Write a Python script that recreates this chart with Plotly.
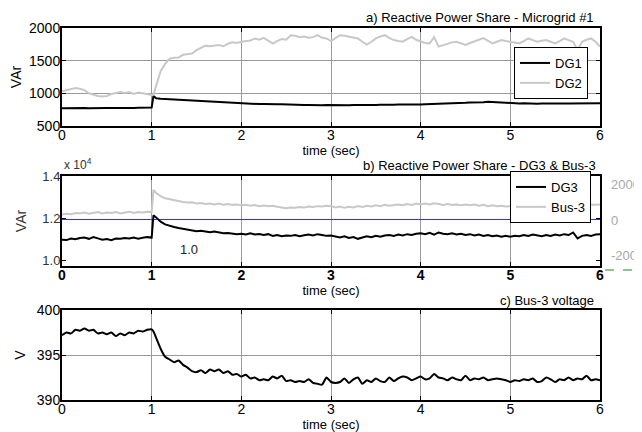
import plotly.graph_objects as go

# time grid (sec)
t = [0.00, 0.05, 0.10, 0.15, 0.20, 0.25, 0.30, 0.35, 0.40, 0.45, 0.50, 0.55, 0.60, 0.65, 0.70, 0.75, 0.80, 0.85, 0.90, 0.95, 1.00,
     1.02,
     1.05, 1.10, 1.15, 1.20, 1.25, 1.30, 1.35, 1.40, 1.45, 1.50, 1.55, 1.60, 1.65, 1.70, 1.75, 1.80, 1.85, 1.90, 1.95, 2.00,
     2.05, 2.10, 2.15, 2.20, 2.25, 2.30, 2.35, 2.40, 2.45, 2.50, 2.55, 2.60, 2.65, 2.70, 2.75, 2.80, 2.85, 2.90, 2.95, 3.00,
     3.05, 3.10, 3.15, 3.20, 3.25, 3.30, 3.35, 3.40, 3.45, 3.50, 3.55, 3.60, 3.65, 3.70, 3.75, 3.80, 3.85, 3.90, 3.95, 4.00,
     4.05, 4.10, 4.15, 4.20, 4.25, 4.30, 4.35, 4.40, 4.45, 4.50, 4.55, 4.60, 4.65, 4.70, 4.75, 4.80, 4.85, 4.90, 4.95, 5.00,
     5.05, 5.10, 5.15, 5.20, 5.25, 5.30, 5.35, 5.40, 5.45, 5.50, 5.55, 5.60, 5.65, 5.70, 5.75, 5.80, 5.85, 5.90, 5.95, 6.00]

# a) Reactive power share - Microgrid #1 (VAr)
dg1 = [770, 773, 771, 774, 772, 775, 773, 776, 774, 777, 775, 776, 774, 777, 775, 778, 776, 779, 778, 781, 782,
       960,
       925, 916, 912, 905, 903, 897, 896, 890, 890, 885, 886, 880, 879, 873, 872, 864, 862, 854, 852, 845,
       843, 839, 839, 835, 837, 833, 835, 831, 833, 829, 830, 825, 824, 820, 822, 819, 822, 819, 823, 820,
       823, 819, 822, 818, 822, 820, 824, 821, 825, 823, 827, 824, 828, 826, 829, 827, 831, 829, 832, 830,
       834, 835, 839, 839, 843, 844, 849, 849, 853, 854, 859, 858, 863, 864, 871, 866, 863, 856, 856, 850,
       851, 846, 847, 843, 846, 842, 845, 843, 846, 844, 847, 844, 846, 845, 848, 845, 848, 845, 847, 847]
dg2 = [1030, 1045, 1065, 1080, 1070, 1050, 1000, 975, 960, 950, 960, 990, 1010, 1020, 1005, 1020, 990, 1012, 1000, 985, 975,
       980,
       1120, 1340, 1450, 1530, 1545, 1550, 1590, 1600, 1610, 1660, 1700, 1730, 1720, 1725, 1740, 1720, 1760, 1780, 1770, 1790,
       1800, 1810, 1840, 1820, 1850, 1800, 1760, 1800, 1830, 1820, 1890, 1880, 1860, 1870, 1850, 1860, 1890, 1850, 1840, 1800,
       1850, 1890, 1880, 1865, 1850, 1840, 1790, 1745, 1790, 1840, 1870, 1890, 1850, 1815, 1800, 1790, 1830, 1865, 1820, 1790,
       1770, 1765, 1860, 1715, 1740, 1765, 1780, 1790, 1760, 1740, 1770, 1790, 1820, 1845, 1800, 1765, 1790, 1815, 1800, 1790,
       1775, 1765, 1800, 1840, 1815, 1790, 1805, 1815, 1790, 1765, 1800, 1840, 1815, 1790, 1665, 1790, 1820, 1840, 1790, 1715]

# b) Reactive power share - DG3 & Bus-3 (x 10^4 VAr)
dg3 = [1.100, 1.098, 1.105, 1.102, 1.108, 1.110, 1.104, 1.112, 1.106, 1.100, 1.103, 1.098, 1.105, 1.104, 1.108, 1.106, 1.110, 1.105, 1.109, 1.112, 1.110,
       1.215,
       1.205, 1.185, 1.172, 1.165, 1.160, 1.155, 1.152, 1.148, 1.146, 1.140, 1.142, 1.138, 1.135, 1.138, 1.133, 1.130, 1.132, 1.128, 1.126, 1.128,
       1.125, 1.130, 1.124, 1.127, 1.122, 1.126, 1.118, 1.122, 1.116, 1.120, 1.118, 1.122, 1.116, 1.121, 1.124, 1.120, 1.126, 1.122, 1.118, 1.120,
       1.114, 1.110, 1.116, 1.108, 1.112, 1.104, 1.110, 1.116, 1.112, 1.118, 1.114, 1.120, 1.122, 1.118, 1.124, 1.120, 1.126, 1.122, 1.128, 1.130,
       1.126, 1.132, 1.124, 1.134, 1.128, 1.126, 1.130, 1.124, 1.128, 1.122, 1.126, 1.120, 1.124, 1.118, 1.122, 1.116, 1.120, 1.114, 1.118, 1.114,
       1.118, 1.116, 1.122, 1.118, 1.124, 1.120, 1.116, 1.122, 1.118, 1.124, 1.120, 1.126, 1.122, 1.134, 1.106, 1.118, 1.122, 1.118, 1.124, 1.125]
bus3 = [1.218, 1.222, 1.220, 1.226, 1.224, 1.228, 1.222, 1.226, 1.230, 1.224, 1.228, 1.226, 1.230, 1.224, 1.228, 1.232, 1.226, 1.230, 1.228, 1.232, 1.230,
        1.335,
        1.320, 1.305, 1.295, 1.290, 1.285, 1.282, 1.278, 1.275, 1.276, 1.270, 1.273, 1.268, 1.270, 1.266, 1.270, 1.265, 1.268, 1.264, 1.266, 1.262,
        1.265, 1.260, 1.263, 1.258, 1.261, 1.257, 1.260, 1.255, 1.252, 1.248, 1.252, 1.250, 1.254, 1.252, 1.256, 1.254, 1.258, 1.256, 1.260, 1.258,
        1.252, 1.256, 1.250, 1.255, 1.252, 1.258, 1.254, 1.260, 1.256, 1.262, 1.258, 1.264, 1.260, 1.262, 1.266, 1.262, 1.268, 1.264, 1.270, 1.266,
        1.270, 1.266, 1.272, 1.268, 1.264, 1.268, 1.264, 1.266, 1.262, 1.266, 1.262, 1.266, 1.260, 1.264, 1.258, 1.262, 1.258, 1.260, 1.256, 1.258,
        1.262, 1.258, 1.264, 1.260, 1.266, 1.262, 1.264, 1.260, 1.266, 1.262, 1.266, 1.262, 1.268, 1.264, 1.262, 1.266, 1.262, 1.266, 1.264, 1.266]

# c) Bus-3 voltage (V)
volt = [397.2, 397.5, 397.4, 397.8, 397.7, 397.95, 397.7, 397.8, 397.4, 397.5, 397.3, 397.5, 397.1, 397.4, 397.2, 397.5, 397.4, 397.7, 397.6, 397.8, 397.85,
        397.6,
        396.9, 395.7, 394.8, 394.5, 394.2, 394.4, 393.9, 393.6, 393.2, 393.1, 393.3, 393.0, 393.4, 393.2, 393.4, 393.0, 393.2, 392.8, 392.9, 392.6,
        392.8, 392.4, 392.5, 392.2, 392.3, 392.2, 392.6, 392.4, 392.7, 392.1, 392.2, 392.0, 392.1, 392.0, 392.3, 391.9, 391.8, 391.7, 392.5, 392.0,
        391.9, 392.0, 392.4, 391.9, 392.3, 392.5, 391.8, 392.2, 392.0, 392.4, 392.1, 392.0, 392.5, 392.1, 392.4, 392.6, 392.5, 392.2, 392.4, 392.6,
        392.3, 392.4, 392.9, 392.5, 392.4, 392.2, 392.5, 392.3, 392.2, 392.7, 392.2, 392.4, 392.3, 392.5, 392.2, 392.3, 392.4, 392.3, 392.2, 392.0,
        392.2, 392.1, 392.3, 392.2, 392.4, 392.0, 392.1, 392.5, 392.3, 392.0, 392.3, 392.2, 392.5, 392.2, 392.4, 392.3, 392.7, 392.2, 392.3, 392.2]

x_ticks = [0, 1, 2, 3, 4, 5, 6]
a_yticks = [500, 1000, 1500, 2000]
b_yticks = [1.0, 1.2, 1.4]
b_yticktext = ["1.0", "1.2", "1.4"]
b_right_ticks = [-2000, 0, 2000]
b_right_text = ["-2000", "0", "2000"]
c_yticks = [390, 395, 400]

FONT = "Liberation Sans, Arial, sans-serif"
BLACK = "#000000"
LGRAY = "#c8c8c8"
GRID = "#9a9a9a"

# page offset of the figure div (browser body margin)
OFF = 8
W, H = 642.0, 432.0
L = 62 - OFF
R = W - (600 - OFF)
PW = W - L - R

def py(y_px):
    return 1 - (y_px - OFF) / H

def px(x_px):
    return (x_px - OFF - L) / PW

def dom(top_px, bot_px):
    return [py(bot_px), py(top_px)]

fig = go.Figure()
fig.add_trace(go.Scatter(x=t, y=dg1, mode="lines", name="DG1", line=dict(color=BLACK, width=2),
                         xaxis="x", yaxis="y", legend="legend"))
fig.add_trace(go.Scatter(x=t, y=dg2, mode="lines", name="DG2", line=dict(color=LGRAY, width=2),
                         xaxis="x", yaxis="y", legend="legend"))
fig.add_trace(go.Scatter(x=t, y=dg3, mode="lines", name="DG3", line=dict(color=BLACK, width=2),
                         xaxis="x2", yaxis="y2", legend="legend2"))
fig.add_trace(go.Scatter(x=t, y=bus3, mode="lines", name="Bus-3", line=dict(color=LGRAY, width=2),
                         xaxis="x2", yaxis="y2", legend="legend2"))
fig.add_trace(go.Scatter(x=[], y=[], mode="lines", showlegend=False, xaxis="x2", yaxis="y4"))
fig.add_trace(go.Scatter(x=t, y=volt, mode="lines", name="V", showlegend=False,
                         line=dict(color=BLACK, width=2, shape="spline", smoothing=0.6),
                         xaxis="x3", yaxis="y3"))

xcommon = dict(range=[0, 6], tickvals=x_ticks, ticks="inside", ticklen=4, tickcolor=BLACK,
               showline=True, linecolor=BLACK, linewidth=2, mirror="ticks", automargin=False,
               showgrid=True, gridcolor=GRID, gridwidth=1, zeroline=False, ticklabelstandoff=-5,
               tickfont=dict(size=14, color=BLACK, family=FONT),
               title=dict(text="time (sec)", font=dict(size=13, color=BLACK, family=FONT), standoff=0))
ycommon = dict(ticks="inside", ticklen=4, tickcolor=BLACK, showline=True, linecolor=BLACK,
               linewidth=2, mirror="ticks", zeroline=False, automargin=False, ticklabelstandoff=-3,
               tickfont=dict(size=14, color=BLACK, family=FONT))

fig.update_layout(
    width=W, height=H,
    margin=dict(l=L, r=R, t=0, b=0, pad=0, autoexpand=False),
    paper_bgcolor="white", plot_bgcolor="white",
    font=dict(family=FONT, color=BLACK),
    xaxis=dict(xcommon, anchor="y", domain=[0, 1]),
    yaxis=dict(ycommon, domain=dom(28, 126), range=[500, 2000], tickvals=a_yticks,
               showgrid=True, gridcolor=GRID,
               title=dict(text="VAr", font=dict(size=14, family=FONT), standoff=6)),
    xaxis2=dict(xcommon, anchor="y2", domain=[0, 1],
                tickfont=dict(size=14, color=BLACK, family=FONT, weight="bold")),
    yaxis2=dict(ycommon, domain=dom(176, 266), range=[0.976, 1.4], tickvals=b_yticks,
                ticktext=b_yticktext, showgrid=False,
                tickfont=dict(size=13, color="#333333", family=FONT),
                title=dict(text="VAr", font=dict(size=14, color="#333333", family=FONT), standoff=12)),
    yaxis4=dict(overlaying="y2", side="right", anchor="x2", range=[-2630, 2510],
                tickvals=b_right_ticks, ticktext=b_right_text, automargin=False,
                showline=False, ticks="", showgrid=False,
                zeroline=True, zerolinecolor="#3030ff", zerolinewidth=1,
                tickfont=dict(size=13, color="#a8a8a8", family=FONT), ticklabelstandoff=10),
    xaxis3=dict(xcommon, anchor="y3", domain=[0, 1]),
    yaxis3=dict(ycommon, domain=dom(310, 400), range=[390, 400], tickvals=c_yticks,
                showgrid=True, gridcolor=GRID,
                title=dict(text="V", font=dict(size=14, family=FONT), standoff=8)),
    legend=dict(x=px(588), y=py(73), xanchor="right", yanchor="middle",
                bgcolor="white", bordercolor=BLACK, borderwidth=1,
                font=dict(size=13, family=FONT, color=BLACK), itemwidth=30, tracegroupgap=0),
    legend2=dict(x=px(591), y=py(197), xanchor="right", yanchor="middle",
                 bgcolor="white", bordercolor=BLACK, borderwidth=1,
                 font=dict(size=13, family=FONT, color=BLACK), itemwidth=30, tracegroupgap=0),
    showlegend=True,
)

ann_font = dict(size=13, family=FONT, color=BLACK)
fig.add_annotation(text="a) Reactive Power Share - Microgrid #1", xref="paper", yref="paper",
                   x=px(596), y=py(17), xanchor="right", yanchor="middle",
                   showarrow=False, font=ann_font)
fig.add_annotation(text="b) Reactive Power Share - DG3 &amp; Bus-3", xref="paper", yref="paper",
                   x=px(598), y=py(165), xanchor="right", yanchor="middle",
                   showarrow=False, font=ann_font)
fig.add_annotation(text="c) Bus-3 voltage", xref="paper", yref="paper",
                   x=px(596), y=py(300), xanchor="right", yanchor="middle",
                   showarrow=False, font=ann_font)
fig.add_annotation(text="x 10<sup>4</sup>", xref="paper", yref="paper",
                   x=px(62), y=py(164), xanchor="left", yanchor="middle",
                   showarrow=False, font=dict(size=12, family=FONT, color="#333333"))
fig.add_annotation(text="1.0", xref="x2", yref="y2", x=1.42, y=1.052, showarrow=False,
                   font=dict(size=13, family=FONT, color="#222222"))
fig.add_shape(type="line", xref="paper", yref="paper",
              x0=px(605), x1=px(636), y0=py(270), y1=py(270),
              line=dict(color="#1a8a1a", width=1, dash="dash"))

fig.write_html("out.html")
